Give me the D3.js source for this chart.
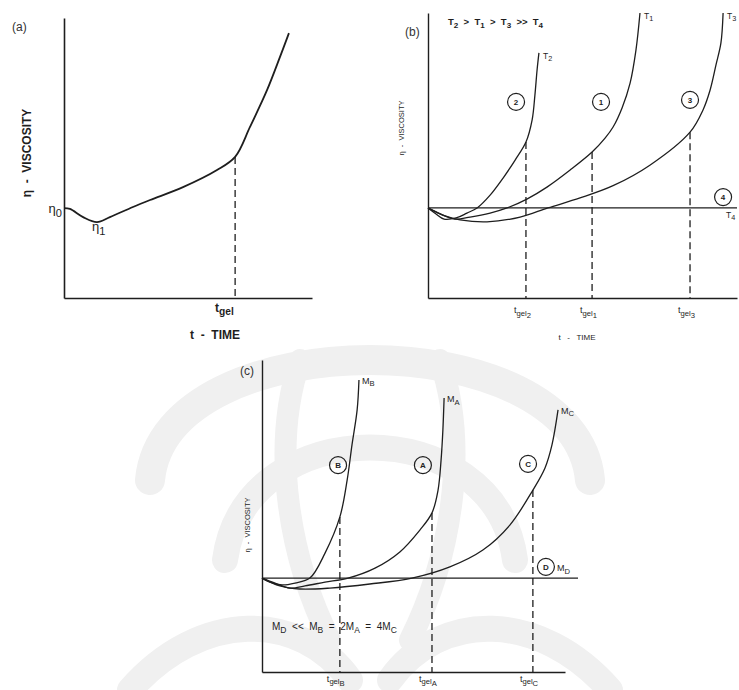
<!DOCTYPE html>
<html>
<head>
<meta charset="utf-8">
<script src="https://cdn.jsdelivr.net/npm/d3@7"></script>
<style>
  body { margin: 0; background: #fff; }
  svg { display: block; font-family: "Liberation Sans", Arial, sans-serif; }
</style>
</head>
<body>
<svg id="fig" width="739" height="690" viewBox="0 0 739 690"></svg>
<script>
// ---- data (time / viscosity in axis units, 0..100) ----
var aCurve = [[0,32.1],[2.4,31.8],[7.7,28.9],[13.3,27.1],[18.5,28.9],[27.8,32.5],[34.7,35.0],
  [48.0,39.6],[61.7,45.7],[69.0,50.4],[75.0,61.1],[81.9,74.3],[87.1,86.1],[90.7,94.6]];
var aGel = [69.0, 50.4];

var bCurve2 = [[0,31.6],[2.6,29.5],[5.2,27.7],[9.1,28.1],[12.6,29.8],[15.9,31.6],[20.1,36.1],
  [24.3,42.1],[28.2,48.4],[31.7,54.7],[33.7,62.5],[34.6,71.2],[35.3,80.0],[35.9,86.0]];
var bCurve1 = [[0,31.6],[3.9,29.5],[8.7,27.7],[13.6,28.4],[20.1,29.8],[25.6,31.6],[32.0,34.7],
  [38.5,38.9],[46.0,44.9],[53.1,51.2],[57.3,56.1],[59.9,60.0],[62.8,66.7],[65.4,75.4],[67.3,87.0],[68.6,100]];
var bCurve3 = [[0,31.6],[5.5,28.8],[10.4,27.4],[19.1,26.7],[29.8,28.4],[38.8,31.6],[49.2,35.1],
  [59.9,39.4],[71.8,46.6],[84.8,58.2],[89.0,66.0],[91.3,73.0],[93.2,81.8],[94.8,89.5],[95.5,100]];
var bCurve4 = [[0,31.6],[100,31.6]];
var bGel = [[31.7,54.7,"2"],[53.1,51.2,"1"],[84.8,58.2,"3"]];
var bCircles = [[28.5,68.8,"2"],[56.0,68.8,"1"],[84.8,69.5,"3"],[95.5,35.4,"4"]];
var bEnds = [[35.9,86.0,"2"],[68.6,100,"1"],[95.5,100,"3"]];

var cCurveB = [[0,30.1],[2.6,28.8],[6.6,27.9],[10.9,28.5],[15.8,30.1],[20.8,38.1],[25.7,49.7],
  [28.1,61.5],[29.7,72.8],[31.4,84.0],[32.0,93.6]];
var cCurveA = [[0,30.1],[4.3,28.5],[9.2,26.9],[14.2,27.6],[20.8,28.8],[28.4,30.1],[37.3,33.3],
  [45.5,38.5],[52.1,45.5],[56.1,51.0],[58.1,58.3],[59.1,67.9],[59.7,77.6],[60.1,87.8]];
var cCurveC = [[0,30.1],[5.9,27.6],[12.5,26.6],[22.4,26.9],[35.6,28.2],[49.5,30.1],[62.0,33.7],
  [72.9,39.1],[81.8,47.1],[89.4,58.3],[93.4,65.4],[95.7,72.8],[97.7,84.0]];
var cCurveD = [[0,30.1],[104.3,30.1]];
var cGel = [[25.7,49.7,"B"],[56.1,51.0,"A"],[89.4,58.3,"C"]];
var cCircles = [[25.1,66.3,"B"],[53.1,66.3,"A"],[87.8,66.7,"C"],[93.7,33.7,"D"]];
var cEnds = [[32.0,93.6,"B"],[60.1,87.8,"A"],[97.7,84.0,"C"]];

// ---- helpers ----
var svg = d3.select("#fig");
var ink = "#1e1e1e";

// faint background watermark
var wm = svg.append("g").attr("fill", "none").attr("stroke", "#f0f0f0").attr("stroke-linecap", "round");
wm.append("path").attr("d", "M150,480 C165,320 575,320 590,480").attr("stroke-width", 30);
wm.append("path").attr("d", "M225,560 C245,410 495,410 515,560").attr("stroke-width", 26);
wm.append("path").attr("d", "M130,690 C200,610 300,610 350,680").attr("stroke-width", 26);
wm.append("path").attr("d", "M610,690 C540,610 440,610 390,680").attr("stroke-width", 26);
wm.append("path").attr("d", "M300,360 C270,450 290,560 330,640").attr("stroke-width", 22);
wm.append("path").attr("d", "M440,360 C470,450 450,560 410,640").attr("stroke-width", 22);

function makePanel(xr, yr) {
  var p = {};
  p.x = d3.scaleLinear().domain([0, 100]).range(xr);
  p.y = d3.scaleLinear().domain([0, 100]).range(yr);
  p.g = svg.append("g");
  p.line = d3.line()
    .x(function(d) { return p.x(d[0]); })
    .y(function(d) { return p.y(d[1]); })
    .curve(d3.curveCatmullRom.alpha(0.5));
  return p;
}

function drawAxes(p, w) {
  var ya = p.g.append("g").attr("transform", "translate(" + p.x(0) + ",0)")
    .call(d3.axisLeft(p.y).tickValues([]).tickSizeOuter(0));
  var xa = p.g.append("g").attr("transform", "translate(0," + p.y(0) + ")")
    .call(d3.axisBottom(p.x).tickValues([]).tickSizeOuter(0));
  [ya, xa].forEach(function(a) {
    a.select(".domain").attr("stroke", ink).attr("stroke-width", w);
  });
}

function drawCurve(p, data, w) {
  p.g.append("path").datum(data)
    .attr("fill", "none").attr("stroke", ink).attr("stroke-width", w)
    .attr("d", p.line);
}

function drawGel(p, d) {
  p.g.append("line")
    .attr("x1", p.x(d[0])).attr("x2", p.x(d[0]))
    .attr("y1", p.y(d[1])).attr("y2", p.y(0))
    .attr("stroke", ink).attr("stroke-width", 1.3)
    .attr("stroke-dasharray", "7,4");
}

// text with one or two subscript levels
function subText(g, x, y, parts, size, opts) {
  opts = opts || {};
  var k = opts.shift || 0.28;
  var t = g.append("text").attr("x", x).attr("y", y)
    .attr("font-size", size).attr("fill", ink)
    .attr("text-anchor", opts.anchor || "start")
    .attr("font-weight", opts.weight || "normal")
    .attr("xml:space", "preserve");
  if (opts.rotate) t.attr("transform", "rotate(-90," + x + "," + y + ")");
  var level = 0;
  parts.forEach(function(pt) {
    var s = t.append("tspan").text(pt[0]);
    var lv = pt[1] || 0;
    var shift = (lv - level) * size * k;
    if (shift) s.attr("dy", shift);
    if (lv > 0) s.attr("font-size", size * 0.85);
    level = lv;
  });
  return t;
}

function circleLabel(p, d, r, size) {
  p.g.append("circle").attr("cx", p.x(d[0])).attr("cy", p.y(d[1])).attr("r", r)
    .attr("fill", "none").attr("stroke", ink).attr("stroke-width", 1.2);
  p.g.append("text").attr("x", p.x(d[0])).attr("y", p.y(d[1]) + size * 0.36)
    .attr("text-anchor", "middle").attr("font-size", size).attr("font-weight", "bold")
    .attr("fill", ink).text(d[2]);
}

// ---- panel (a) ----
var pa = makePanel([64, 312], [298, 18]);
drawAxes(pa, 1.6);
drawCurve(pa, aCurve, 1.8);
drawGel(pa, aGel);
svg.append("text").attr("x", 12).attr("y", 31).attr("font-size", 12).attr("fill", "#333").text("(a)");
subText(pa.g, pa.x(0) - 2, pa.y(aCurve[0][1]) + 5, [["η"], ["0", 1]], 13, {anchor: "end"});
subText(pa.g, pa.x(11.3), pa.y(23.9), [["η"], ["1", 1]], 13);
subText(pa.g, pa.x(aGel[0]) - 20, pa.y(0) + 14, [["t"], ["gel", 1]], 12, {weight: "bold"});
subText(pa.g, 215, 339, [["t  -  TIME"]], 12, {anchor: "middle", weight: "bold"});
subText(pa.g, 31, 153, [["η  -  VISCOSITY"]], 12, {anchor: "middle", weight: "bold", rotate: true});

// ---- panel (b) ----
var pb = makePanel([428, 737], [298, 13]);
drawAxes(pb, 1.4);
drawCurve(pb, bCurve4, 1.3);
drawCurve(pb, bCurve2, 1.3);
drawCurve(pb, bCurve1, 1.3);
drawCurve(pb, bCurve3, 1.3);
bGel.forEach(function(d) {
  drawGel(pb, d);
  subText(pb.g, pb.x(d[0]) - 12, pb.y(0) + 15, [["t"], ["gel", 1], [d[2], 2]], 9);
});
bCircles.forEach(function(d) { circleLabel(pb, d, 8.5, 8); });
bEnds.forEach(function(d) {
  subText(pb.g, pb.x(d[0]) + 4, pb.y(d[1]) + 6, [["T"], [d[2], 1]], 8.5);
});
subText(pb.g, pb.x(100) - 11, pb.y(31.6) + 10, [["T"], ["4", 1]], 8.5);
svg.append("text").attr("x", 405).attr("y", 36).attr("font-size", 12).attr("fill", "#333").text("(b)");
subText(pb.g, 448, 25, [["T"], ["2", 1], ["  >  T", 0], ["1", 1], ["  >  T", 0], ["3", 1], ["  >>  T", 0], ["4", 1]], 9.5, {weight: "bold"});
subText(pb.g, 404, 128, [["η  -  VISCOSITY"]], 7.5, {anchor: "middle", rotate: true});
subText(pb.g, 577, 340, [["t   -   TIME"]], 8, {anchor: "middle"});

// ---- panel (c) ----
var pc = makePanel([262, 565], [672, 360]);
drawAxes(pc, 1.4);
drawCurve(pc, cCurveD, 1.3);
drawCurve(pc, cCurveB, 1.3);
drawCurve(pc, cCurveA, 1.3);
drawCurve(pc, cCurveC, 1.3);
cGel.forEach(function(d) {
  drawGel(pc, d);
  subText(pc.g, pc.x(d[0]) - 13, pc.y(0) + 10, [["t"], ["gel", 1], [d[2], 2]], 9, {shift: 0.2});
});
cCircles.forEach(function(d) { circleLabel(pc, d, 8.5, 8); });
cEnds.forEach(function(d) {
  subText(pc.g, pc.x(d[0]) + 3, pc.y(d[1]) + 4, [["M"], [d[2], 1]], 9);
});
subText(pc.g, pc.x(104.3) - 21, pc.y(30.1) - 7, [["M"], ["D", 1]], 9);
svg.append("text").attr("x", 240).attr("y", 375).attr("font-size", 12).attr("fill", "#333").text("(c)");
subText(pc.g, 272, 630, [["M"], ["D", 1], ["  <<  M", 0], ["B", 1], ["  =  2M", 0], ["A", 1], ["  =  4M", 0], ["C", 1]], 10);
subText(pc.g, 250, 525, [["η  -  VISCOSITY"]], 7.5, {anchor: "middle", rotate: true});
</script>
</body>
</html>
